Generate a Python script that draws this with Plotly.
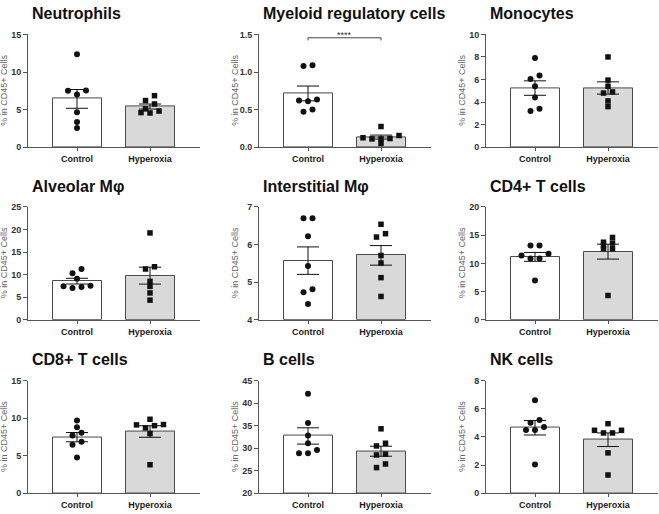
import numpy as np
import plotly.graph_objects as go

# ---- data (% in CD45+ cells, n=7 per group) ----
groups = ["Control", "Hyperoxia"]
panel_titles = ["Neutrophils", "Myeloid regulatory cells", "Monocytes",
                "Alveolar M\u03c6", "Interstitial M\u03c6", "CD4+ T cells",
                "CD8+ T cells", "B cells", "NK cells"]

neutrophils_ctrl = [12.35, 7.55, 7.5, 7.0, 4.65, 3.35, 2.55]
neutrophils_hyp = [6.85, 6.2, 5.75, 5.1, 4.8, 4.6, 4.55]
myeloid_ctrl = [1.09, 1.08, 0.635, 0.62, 0.61, 0.5, 0.47]
myeloid_hyp = [0.275, 0.155, 0.125, 0.115, 0.11, 0.11, 0.05]
monocytes_ctrl = [7.9, 6.35, 6.05, 5.4, 4.4, 3.4, 3.2]
monocytes_hyp = [8.0, 5.95, 5.4, 4.9, 4.8, 4.1, 3.6]
alveolar_ctrl = [11.25, 10.3, 9.1, 7.55, 7.4, 7.25, 7.05]
alveolar_hyp = [19.25, 11.75, 11.25, 8.5, 7.4, 5.95, 4.35]
interstitial_ctrl = [6.7, 6.7, 6.22, 5.43, 4.81, 4.73, 4.42]
interstitial_hyp = [6.54, 6.29, 6.2, 5.71, 5.51, 5.12, 4.62]
cd4_ctrl = [13.15, 13.15, 11.7, 11.4, 10.85, 10.85, 6.95]
cd4_hyp = [14.6, 13.75, 13.6, 13.15, 12.6, 12.6, 4.3]
cd8_ctrl = [9.7, 8.8, 8.05, 7.7, 6.85, 6.45, 4.75]
cd8_hyp = [9.85, 9.15, 9.1, 9.0, 8.7, 7.95, 3.8]
bcells_ctrl = [42.1, 35.6, 32.8, 31.1, 29.6, 28.9, 28.9]
bcells_hyp = [34.3, 31.1, 30.5, 28.7, 28.5, 26.5, 25.7]
nk_ctrl = [6.6, 5.2, 5.0, 4.7, 4.5, 4.5, 2.05]
nk_hyp = [4.94, 4.47, 4.47, 4.28, 4.28, 2.87, 1.3]

y_min = [0, 0, 0, 0, 4, 0, 0, 20, 0]
y_max = [15, 1.5, 10, 25, 7, 20, 15, 45, 8]
y_step = [5, 0.5, 2, 5, 1, 5, 5, 5, 2]

sig_label = "****"  # Myeloid regulatory cells, Control vs Hyperoxia

panels = [
    (neutrophils_ctrl, neutrophils_hyp), (myeloid_ctrl, myeloid_hyp),
    (monocytes_ctrl, monocytes_hyp), (alveolar_ctrl, alveolar_hyp),
    (interstitial_ctrl, interstitial_hyp), (cd4_ctrl, cd4_hyp),
    (cd8_ctrl, cd8_hyp), (bcells_ctrl, bcells_hyp), (nk_ctrl, nk_hyp),
]

# ---- page geometry (pixels) ----
W, H = 659, 514
col_left = [28, 259, 486]
row_top = [30, 206, 383]
plot_w, plot_h = 172, 115
cat_px = 73          # distance between the two bar centres
first_px = 49        # first bar centre from the y axis
x_range = [-first_px / cat_px, (plot_w - first_px) / cat_px]

AXIS = "#555555"
FONT = "Liberation Sans, Arial, sans-serif"


def swarm(vals, px_per_unit, dot_px=9, row_px=5):
    """GraphPad-like scatter: points close in y are spread symmetrically."""
    order = sorted(range(len(vals)), key=lambda i: -vals[i])
    rows = []
    for i in order:
        if rows and (vals[rows[-1][0]] - vals[i]) * px_per_unit < row_px:
            rows[-1].append(i)
        else:
            rows.append([i])
    offs = [0.0] * len(vals)
    for row in rows:
        m = len(row)
        slots = sorted([k - (m - 1) / 2 for k in range(m)], key=lambda s: (abs(s), s))
        for i, s in zip(sorted(row, key=lambda i: vals[i]), slots):
            offs[i] = s * dot_px / cat_px
    return offs


fig = go.Figure()
layout = {}
annotations = []
shapes = []

for k, (ctrl, hyp) in enumerate(panels):
    r, c = divmod(k, 3)
    sfx = "" if k == 0 else str(k + 1)
    xa, ya = "x" + sfx, "y" + sfx
    left, top = col_left[c], row_top[r]
    xdom = [left / W, (left + plot_w) / W]
    ydom = [1 - (top + plot_h) / H, 1 - top / H]
    px_per_unit = plot_h / (y_max[k] - y_min[k])

    # bars = mean, error bars = SEM
    means = [np.mean(ctrl), np.mean(hyp)]
    sems = [np.std(ctrl, ddof=1) / np.sqrt(len(ctrl)),
            np.std(hyp, ddof=1) / np.sqrt(len(hyp))]

    fig.add_trace(go.Bar(
        x=[0, 1], y=[m - y_min[k] for m in means], base=y_min[k],
        width=first_px / cat_px,
        marker=dict(color=["#ffffff", "#d9d9d9"], line=dict(color="#4a4a4a", width=1)),
        error_y=dict(type="data", array=sems, color="#111111", thickness=1, width=11),
        xaxis=xa, yaxis=ya, showlegend=False, hoverinfo="skip",
    ))
    for g, (vals, sym, size) in enumerate([(ctrl, "circle", 6), (hyp, "square", 5.5)]):
        offs = swarm(vals, px_per_unit)
        fig.add_trace(go.Scatter(
            x=[g + o for o in offs], y=vals, mode="markers",
            marker=dict(symbol=sym, size=size, color="#111111", line=dict(width=0)),
            xaxis=xa, yaxis=ya, showlegend=False, cliponaxis=False,
        ))

    ticks = list(np.arange(y_min[k], y_max[k] + y_step[k] / 2, y_step[k]))
    tick_txt = [f"{t:.1f}" if y_step[k] < 1 else f"{t:g}" for t in ticks]
    layout["xaxis" + sfx] = dict(
        domain=xdom, range=x_range, anchor=ya, tickvals=[0, 1], ticktext=groups,
        ticks="outside", ticklen=3, tickcolor=AXIS, showline=True, linecolor=AXIS,
        linewidth=1, showgrid=False, zeroline=False,
        tickfont=dict(family=FONT, size=9, color="#1a1a1a", weight="bold"))
    layout["yaxis" + sfx] = dict(
        domain=ydom, range=[y_min[k], y_max[k]], anchor=xa, tickvals=ticks,
        ticktext=tick_txt, ticks="outside", ticklen=4, tickcolor=AXIS,
        showline=True, linecolor=AXIS, linewidth=1, showgrid=False, zeroline=False,
        tickfont=dict(family=FONT, size=9, color="#333333", weight="bold"))

    annotations.append(dict(
        text=panel_titles[k], xref="paper", yref="paper", x=(left + 2) / W,
        y=1 - (top - 21) / H, xanchor="left", yanchor="middle", showarrow=False,
        font=dict(family=FONT, size=16, color="#111111", weight="bold")))
    annotations.append(dict(
        text="% in CD45+ Cells", xref="paper", yref="paper", x=(left - 24) / W,
        y=1 - (top + plot_h / 2) / H, xanchor="center", yanchor="middle",
        textangle=-90, showarrow=False, font=dict(family=FONT, size=9, color="#666666")))

# significance bracket on the myeloid panel
k = 1
yb = y_max[k] - 0.045
tick = 0.035
for x0, y0, x1, y1 in [(0, yb, 1, yb), (0, yb, 0, yb - tick), (1, yb, 1, yb - tick)]:
    shapes.append(dict(type="line", xref="x2", yref="y2", x0=x0, y0=y0, x1=x1, y1=y1,
                       line=dict(color="#444444", width=1)))
annotations.append(dict(text=sig_label, xref="x2", yref="y2", x=0.5, y=yb,
                        yanchor="bottom", showarrow=False, yshift=-4,
                        font=dict(family=FONT, size=9, color="#333333")))

fig.update_layout(
    width=W, height=H, margin=dict(l=0, r=0, t=0, b=0),
    paper_bgcolor="white", plot_bgcolor="white",
    annotations=annotations, shapes=shapes, bargap=0, **layout,
)

# the page's default body margin would push the fixed-size figure off the window
fig.write_html("out.html", config={"displayModeBar": False},
               post_script="document.body.style.margin = '0px';")
